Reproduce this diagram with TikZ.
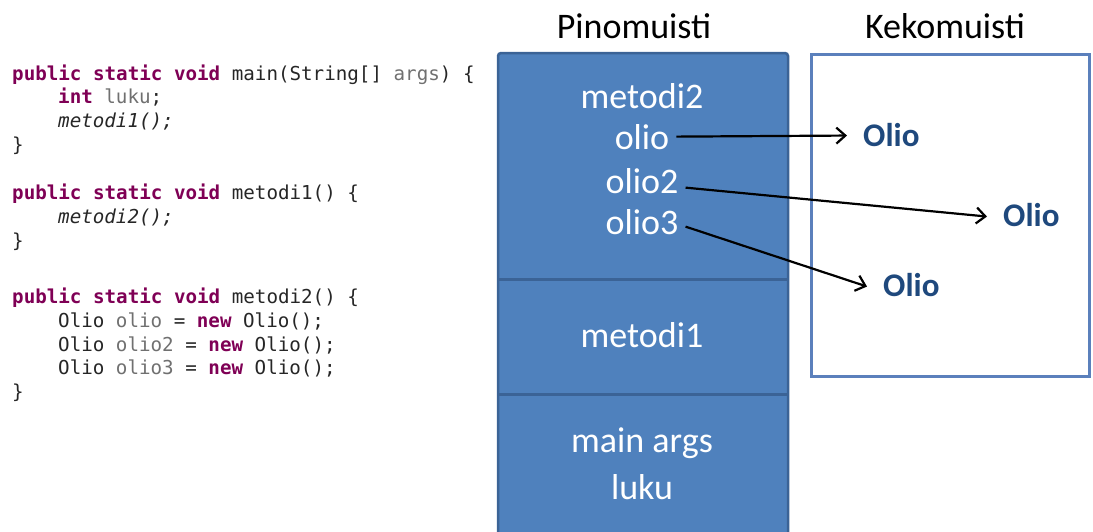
\documentclass[tikz,border=0pt]{standalone}
\usepackage{fontspec}
\setmainfont{Carlito}
\setmonofont{DejaVu Sans Mono}
\usetikzlibrary{arrows.meta}
\definecolor{stackfill}{HTML}{4F81BD}
\definecolor{stackline}{HTML}{3B6396}
\definecolor{heapline}{HTML}{5B80BC}
\definecolor{olioblue}{HTML}{1F497D}
\definecolor{kwcol}{HTML}{7F0055}
\definecolor{varcol}{HTML}{707070}
\definecolor{codetxt}{HTML}{262626}
\newcommand{\kwd}[1]{{\bfseries\color{kwcol}#1}}
\newcommand{\vrb}[1]{{\color{varcol}#1}}
\begin{document}
\begin{tikzpicture}[x=1pt,y=-1pt,
  code/.style={anchor=base west, inner sep=0pt, font=\ttfamily\fontsize{19.2}{23}\selectfont, text=codetxt},
  stk/.style={anchor=base, text=white, font=\fontsize{36}{43}\selectfont, inner xsep=7pt, inner ysep=0pt},
  ttl/.style={anchor=base, text=black, font=\fontsize{36}{43}\selectfont},
  obj/.style={anchor=base west, text=olioblue, font=\bfseries\fontsize{33}{40}\selectfont, inner xsep=16pt, inner ysep=0pt},
  ref/.style={-{Straight Barb[length=9pt,width=16pt,line width=2.2pt]}, line width=2.2pt, black}]
\useasboundingbox (0,0) rectangle (1093,531);
\clip (0,0) rectangle (1093,531);
% code
\node[code] (c1) at (12,80) {\kwd{public static void} main(String[] \vrb{args}) \{};
\node[code] (c2) at (58,103) {\kwd{int} \vrb{luku};};
\node[code] (c3) at (58,127) {\itshape metodi1();};
\node[code] (c4) at (12,151) {\}};
\node[code] (c5) at (12,199) {\kwd{public static void} metodi1() \{};
\node[code] (c6) at (58,223) {\itshape metodi2();};
\node[code] (c7) at (12,247) {\}};
\node[code] (c8) at (12,303) {\kwd{public static void} metodi2() \{};
\node[code] (c9) at (58,327) {Olio \vrb{olio} = \kwd{new} Olio();};
\node[code] (c10) at (58,351) {Olio \vrb{olio2} = \kwd{new} Olio();};
\node[code] (c11) at (58,374) {Olio \vrb{olio3} = \kwd{new} Olio();};
\node[code] (c12) at (12,398) {\}};
% titles
\node[ttl] (pino) at (634,38) {Pinomuisti};
\node[ttl] (keko) at (945,38) {Kekomuisti};
% stack
\draw[stackline, fill=stackfill, line width=2.5pt, rounded corners=3pt] (498,545) -- (498,53) -- (788,53) -- (788,545);
\draw[stackline, line width=3pt] (498,279) -- (788,279);
\draw[stackline, line width=3pt] (498,394) -- (788,394);
% heap
\draw[heapline, line width=3pt, fill=white] (811.5,54) rectangle (1089.5,376.5);
% stack texts
\node[stk] (m2) at (642,108) {metodi2};
\node[stk] (o1) at (642,149) {olio};
\node[stk] (o2) at (642,193) {olio2};
\node[stk] (o3) at (642,234) {olio3};
\node[stk] (m1) at (642,347) {metodi1};
\node[stk] (ma) at (642,452) {main args};
\node[stk] (lk) at (642,499) {luku};
% heap objects
\node[obj] (h1) at (847,146) {Olio};
\node[obj] (h2) at (987,226) {Olio};
\node[obj] (h3) at (867,296) {Olio};
% references
\draw[ref] (o1.east) -- ([yshift=-1pt]h1.west);
\draw[ref] ([yshift=-7pt]o2.east) -- ([yshift=-2pt]h2.west);
\draw[ref] ([yshift=-5pt]o3.east) -- ([yshift=-2pt]h3.west);
\end{tikzpicture}
\end{document}
